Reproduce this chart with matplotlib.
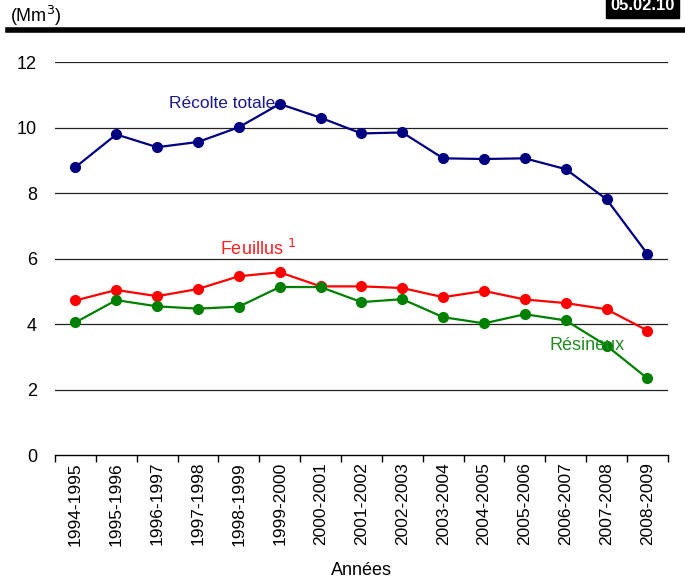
import matplotlib
matplotlib.use("Agg")
import matplotlib.pyplot as plt
from matplotlib import font_manager

years = ["1994-1995", "1995-1996", "1996-1997", "1997-1998", "1998-1999",
         "1999-2000", "2000-2001", "2001-2002", "2002-2003", "2003-2004",
         "2004-2005", "2005-2006", "2006-2007", "2007-2008", "2008-2009"]
recolte_totale = [8.79, 9.79, 9.40, 9.56, 10.01, 10.72, 10.30, 9.82, 9.85,
                  9.06, 9.04, 9.06, 8.73, 7.81, 6.14]
feuillus = [4.72, 5.04, 4.85, 5.07, 5.46, 5.58, 5.15, 5.15, 5.10,
            4.82, 5.01, 4.75, 4.64, 4.45, 3.80]
resineux = [4.05, 4.73, 4.54, 4.47, 4.53, 5.13, 5.13, 4.67, 4.76,
            4.21, 4.02, 4.30, 4.11, 3.34, 2.34]
yticks = [0, 2, 4, 6, 8, 10, 12]

names = {f.name for f in font_manager.fontManager.ttflist}
fam = "Liberation Sans Narrow" if "Liberation Sans Narrow" in names else "Liberation Sans"
plt.rcParams["font.family"] = [fam, "DejaVu Sans"]

fig = plt.figure(figsize=(6.85, 5.86), dpi=100)
ax = fig.add_axes([0.0803, 0.2235, 0.8947, 0.6706])

x = list(range(len(years)))
ax.plot(x, recolte_totale, color="#000080", lw=1.6, marker="o", ms=7, zorder=3)
ax.plot(x, feuillus, color="#ff0000", lw=1.6, marker="o", ms=7, zorder=3)
ax.plot(x, resineux, color="#008000", lw=1.6, marker="o", ms=7, zorder=3)

ax.set_xlim(-0.5, len(years) - 0.5)
ax.set_ylim(0, 12)
ax.set_yticks(yticks)
ax.set_yticklabels([str(v) for v in yticks], fontsize=13)
ax.tick_params(axis="y", length=0, pad=13)
for v in yticks[1:]:
    ax.axhline(v, color="#222222", lw=0.9, zorder=1)

ax.set_xticks([i + 0.5 for i in range(-1, len(years))], minor=False)
ax.set_xticklabels([""] * (len(years) + 1))
ax.tick_params(axis="x", direction="out", length=5, width=1, color="black")
ax.set_xticks(x, minor=True)
ax.set_xticklabels(years, minor=True, rotation=90, fontsize=12.5)
ax.tick_params(axis="x", which="minor", length=0, pad=5)

for s in ["top", "right", "left"]:
    ax.spines[s].set_visible(False)
ax.spines["bottom"].set_linewidth(1)

ax.set_xlabel("Années", fontsize=13, labelpad=12)

ax.text(4.9, 10.72, "Récolte totale", color="#1a1a8c", fontsize=12.5,
        ha="right", va="center")
ax.text(5.4, 6.0, "Feuillus $^{1}$", color="#ff2020", fontsize=13,
        ha="right", va="bottom")
ax.text(13.45, 3.1, "Résineux", color="#228b22", fontsize=13,
        ha="right", va="bottom")

fig.text(0.014, 0.953, "(Mm$^{3}$)", fontsize=13, ha="left", va="bottom")
fig.add_artist(plt.Line2D([0.012, 1.0], [0.949, 0.949], transform=fig.transFigure,
                          color="black", lw=4))
fig.text(0.985, 0.99, "05.02.10", fontsize=12, color="white", weight="bold",
         ha="right", va="center",
         bbox=dict(facecolor="black", edgecolor="black", pad=3))

fig.savefig("out.png", dpi=100)
